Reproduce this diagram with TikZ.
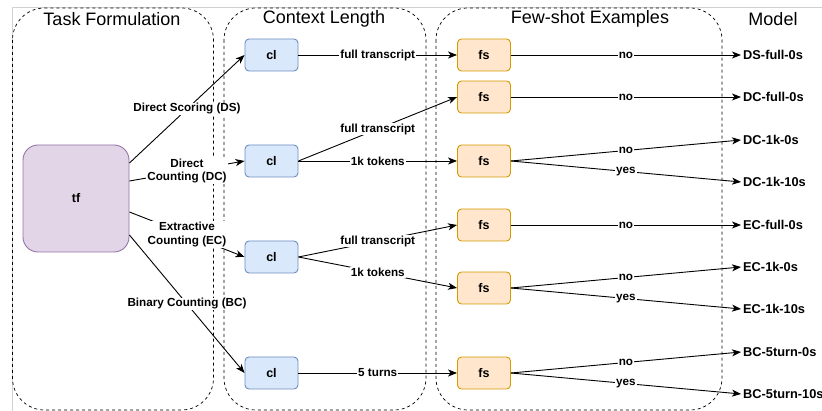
\documentclass[tikz,border=0pt]{standalone}
\usepackage{fontspec}
\setmainfont{Liberation Sans}
\usetikzlibrary{arrows.meta, calc}

\definecolor{tffill}{HTML}{E1D5E7}
\definecolor{tfline}{HTML}{9673A6}
\definecolor{clfill}{HTML}{DAE8FC}
\definecolor{clline}{HTML}{6C8EBF}
\definecolor{fsfill}{HTML}{FFE6CC}
\definecolor{fsline}{HTML}{D79B00}

\begin{document}
\begin{tikzpicture}[x=1pt, y=-1pt,
  group/.style={draw, line width=0.7pt, dash pattern=on 3pt off 3pt, rounded corners=32pt},
  title/.style={font=\fontsize{18}{21}\selectfont},
  box/.style={draw, line width=0.9pt, rounded corners=4pt, minimum width=53pt, minimum height=32pt,
    font=\bfseries\fontsize{12.5}{14}\selectfont},
  clbox/.style={box, fill=clfill, draw=clline},
  fsbox/.style={box, fill=fsfill, draw=fsline},
  model/.style={anchor=west, inner sep=2pt, font=\bfseries\fontsize{12.8}{14}\selectfont},
  link/.style={line width=0.9pt, -{Stealth[length=9pt, width=7pt, inset=2.5pt]}},
  lab/.style={midway, fill=white, inner sep=1pt, align=center,
    font=\bfseries\fontsize{11.7}{13.5}\selectfont}]
\useasboundingbox (0,0) rectangle (822,411);
\draw[black!18, line width=0.8pt] (822,7) -- (12,7) -- (12,411);

\draw[group] (12.5,8) rectangle (213.5,410);
\draw[group] (224,8) rectangle (426,410);
\draw[group] (436,8) rectangle (722,410);

\node[title] (t1) at (112,19) {Task Formulation};
\node[title] (t2) at (324,19) {Context Length};
\node[title] (t3) at (590,19) {Few-shot Examples};
\node[title] (t4) at (773,19) {Model};

\node[box, fill=tffill, draw=tfline, rounded corners=15pt, minimum width=106pt, minimum height=107pt]
  (tf) at (76,198.5) {tf};

\node[clbox] (cl1) at (271.5,55) {cl};
\node[clbox] (cl2) at (271.5,161) {cl};
\node[clbox] (cl3) at (271.5,257) {cl};
\node[clbox] (cl4) at (271.5,373) {cl};

\node[fsbox] (fs1) at (484,55) {fs};
\node[fsbox] (fs2) at (484,97) {fs};
\node[fsbox] (fs3) at (484,161) {fs};
\node[fsbox] (fs4) at (484,225) {fs};
\node[fsbox] (fs5) at (484,288) {fs};
\node[fsbox] (fs6) at (484,373) {fs};

\node[model] (m1) at (741,55) {DS-full-0s};
\node[model] (m2) at (741,97) {DC-full-0s};
\node[model] (m3) at (741,140) {DC-1k-0s};
\node[model] (m4) at (741,182) {DC-1k-10s};
\node[model] (m5) at (741,225) {EC-full-0s};
\node[model] (m6) at (741,267) {EC-1k-0s};
\node[model] (m7) at (741,309) {EC-1k-10s};
\node[model] (m8) at (741,352) {BC-5turn-0s};
\node[model] (m9) at (741,394) {BC-5turn-10s};

\draw[link] ($(tf.east)+(0,-35.5)$) -- (cl1.west) node[lab] {Direct Scoring (DS)};
\draw[link] ($(tf.east)+(0,-17.5)$) -- (cl2.west) node[lab] {Direct\\Counting (DC)};
\draw[link] ($(tf.east)+(0,13.5)$) -- (cl3.west) node[lab] {Extractive\\Counting (EC)};
\draw[link] ($(tf.east)+(0,36.5)$) -- (cl4.west) node[lab] {Binary Counting (BC)};

\draw[link] (cl1.east) -- (fs1.west) node[lab] {full transcript};
\draw[link] (cl2.east) -- (fs2.west) node[lab] {full transcript};
\draw[link] (cl2.east) -- (fs3.west) node[lab] {1k tokens};
\draw[link] (cl3.east) -- (fs4.west) node[lab] {full transcript};
\draw[link] (cl3.east) -- (fs5.west) node[lab] {1k tokens};
\draw[link] (cl4.east) -- (fs6.west) node[lab] {5 turns};

\draw[link] (fs1.east) -- (m1.west) node[lab] {no};
\draw[link] (fs2.east) -- (m2.west) node[lab] {no};
\draw[link] (fs3.east) -- (m3.west) node[lab] {no};
\draw[link] (fs3.east) -- (m4.west) node[lab] {yes};
\draw[link] (fs4.east) -- (m5.west) node[lab] {no};
\draw[link] (fs5.east) -- (m6.west) node[lab] {no};
\draw[link] (fs5.east) -- (m7.west) node[lab] {yes};
\draw[link] (fs6.east) -- (m8.west) node[lab] {no};
\draw[link] (fs6.east) -- (m9.west) node[lab] {yes};
\end{tikzpicture}
\end{document}
